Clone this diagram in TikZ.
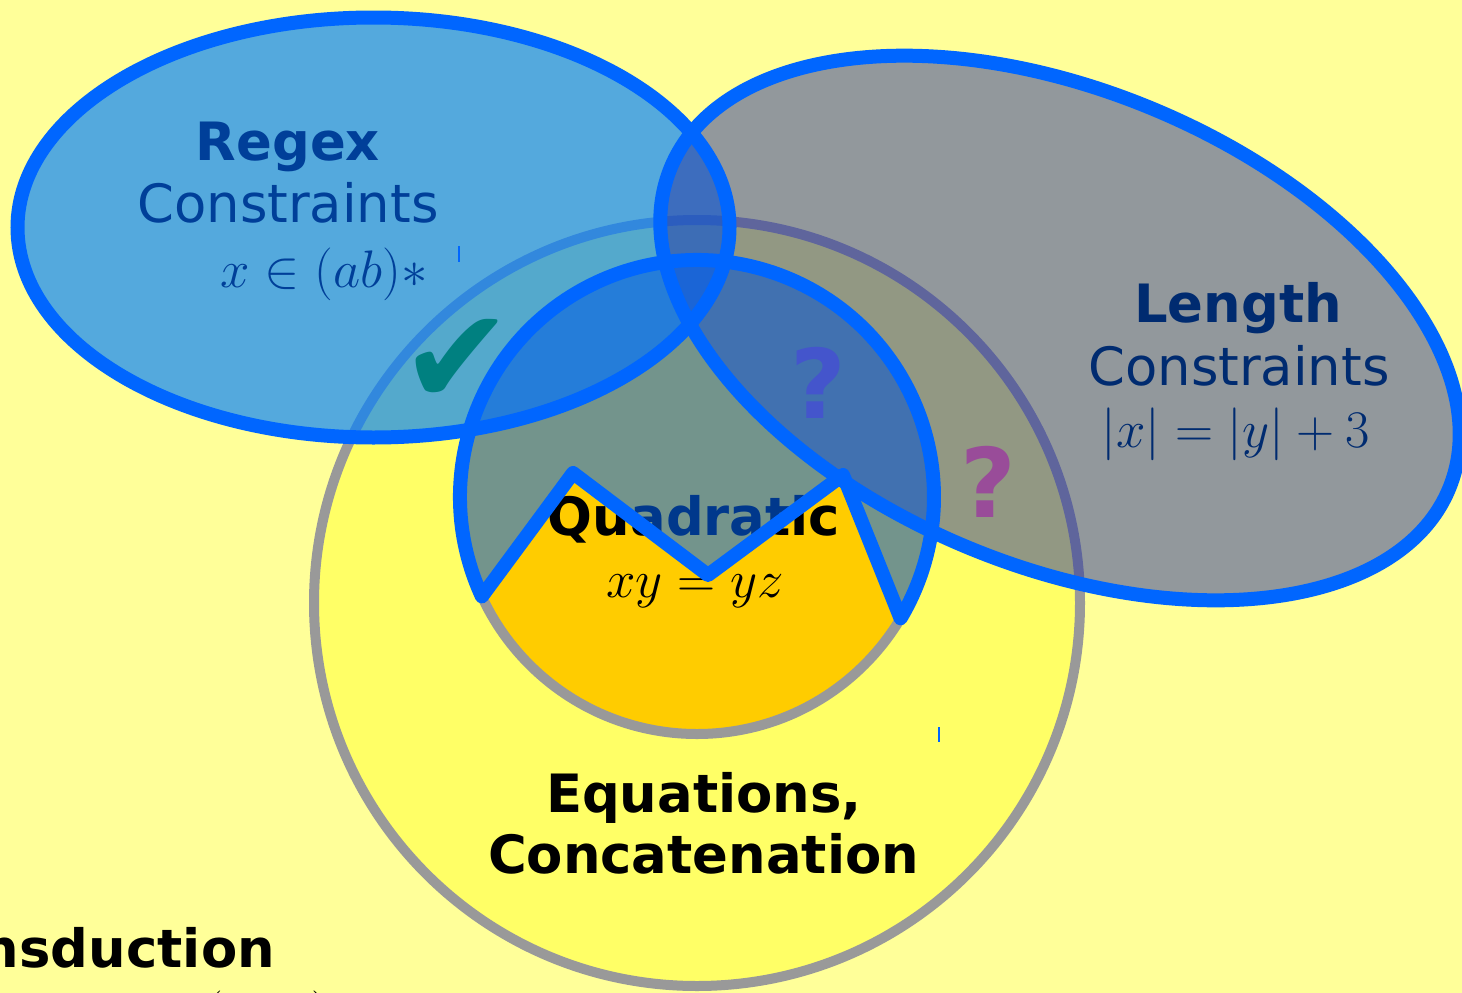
\RequirePackage{fix-cm}
\documentclass[tikz,border=0pt]{standalone}
\usepackage[no-math]{fontspec}
\setmainfont{DejaVu Sans}
\newfontfamily\symfont{DejaVu Sans}
\definecolor{bgyellow}{HTML}{FFFF99}
\definecolor{bigyellow}{HTML}{FFFF66}
\definecolor{orangefill}{HTML}{FFCC00}
\definecolor{ringgray}{HTML}{999999}
\definecolor{bblue}{HTML}{0066FF}
\definecolor{regexfill}{HTML}{0080FF}
\definecolor{lengthfill}{HTML}{2733A0}
\definecolor{regextext}{HTML}{003F99}
\definecolor{lengthtext}{HTML}{002B70}
\definecolor{checkteal}{HTML}{008080}
\definecolor{qblue}{HTML}{4455CC}
\definecolor{qpurple}{HTML}{994C99}
\newcommand\bigfont{\fontsize{52.8}{60}\selectfont}
\tikzset{
  lbl/.style={font=\bigfont, anchor=base, inner sep=0pt},
  boldlbl/.style={font=\bigfont\bfseries, anchor=base, inner sep=0pt},
  ring/.style={draw=ringgray, line width=10pt},
  ellborder/.style={draw=bblue, line width=14pt},
  blueshape/.style={fill=bblue, fill opacity=0.55, draw=bblue, draw opacity=1, line width=14pt, line join=round},
  qmark/.style={font=\fontsize{96}{100}\selectfont\bfseries, inner sep=0pt},
  tick/.style={draw=bblue, line width=2pt}
}
\begin{document}
\begin{tikzpicture}[x=1pt,y=1pt]
\useasboundingbox (0,0) rectangle (1462,-993);
\clip (0,0) rectangle (1462,-993);
\fill[bgyellow] (0,0) rectangle (1462,-993);
% big circle
\path[fill=bigyellow, ring] (697,-603) circle[radius=383];
% inner circle
\path[fill=orangefill, ring] (697,-497) circle[radius=237];
% texts under shapes
\node[boldlbl] (eq1) at (704,-812) {Equations,};
\node[boldlbl] (eq2) at (703.5,-873) {Concatenation};
\node[boldlbl] (quad) at (694,-535) {Quadratic};
\node[lbl] (quadm) at (695,-597) {$xy=yz$};
\node[boldlbl, anchor=base east] (trans) at (275,-967) {Transduction};
\node[lbl, anchor=base west] (transm) at (90,-1030) {$\mathbf{T}\;\;\;\;\;(x,\,y)$};
% ellipse fills
\fill[regexfill, fill opacity=0.67] (373.5,-227.5) ellipse[x radius=356, y radius=210];
\fill[lengthfill, fill opacity=0.5, rotate around={-22.4:(1060,-328)}] (1060,-328) ellipse[x radius=421, y radius=238];
% ellipse borders
\draw[ellborder] (373.5,-227.5) ellipse[x radius=356, y radius=210];
\draw[ellborder, rotate around={-22.4:(1060,-328)}] (1060,-328) ellipse[x radius=421, y radius=238];
% blue shape
\path[blueshape] (697,-497) ++(204.8:237) arc[start angle=204.8, end angle=-30.8, radius=237]
  -- (843,-475) -- (708,-575) -- (573,-473) -- cycle;
% labels on top
\node[boldlbl, text=regextext] (rx1) at (288,-160) {Regex};
\node[lbl, text=regextext] (rx2) at (288,-222) {Constraints};
\node[lbl, text=regextext] (rx3) at (324,-287) {$x\in(ab)*$};
\node[boldlbl, text=lengthtext] (ln1) at (1238,-322) {Length};
\node[lbl, text=lengthtext] (ln2) at (1239,-385) {Constraints};
\node[lbl, text=lengthtext] (ln3) at (1236,-447) {$|x|=|y|+3$};
\node[font=\symfont\fontsize{135}{135}\selectfont, text=checkteal, inner sep=0pt] (chk) at (457,-362) {✔};
\node[qmark, text=qblue] (q1) at (818,-383) {?};
\node[qmark, text=qpurple] (q2) at (988,-482) {?};
\draw[tick] (459,-246) -- (459,-262);
\draw[tick] (939,-727) -- (939,-742);
\end{tikzpicture}
\end{document}
